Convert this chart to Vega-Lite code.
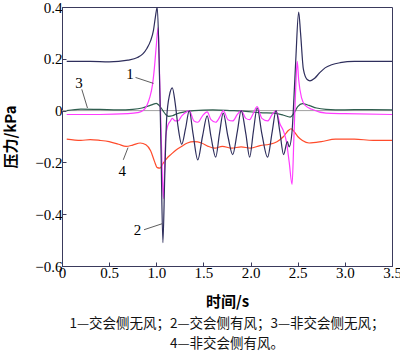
{
  "$schema": "https://vega.github.io/schema/vega-lite/v6.json",
  "autosize": {"type": "none"},
  "width": 330,
  "height": 259,
  "padding": {"left": 62, "top": 7, "right": 8, "bottom": 90},
  "background": "white",
  "config": {
    "view": {"stroke": "#3a3a5c", "strokeWidth": 1},
    "axis": {"grid": false, "domainColor": "#3a3a5c", "tickColor": "#3a3a5c", "labelColor": "#000", "titleColor": "#000", "labelFont": "Liberation Serif, serif"},
    "title": {"font": "Noto Sans CJK SC", "fontSize": 13.5, "fontWeight": "normal", "color": "#111"}
  },
  "title": {"text": ["1—交会侧无风；2—交会侧有风；3—非交会侧无风；", "4—非交会侧有风。"], "orient": "bottom", "anchor": "middle", "offset": 8, "lineHeight": 20},
  "datasets": {
    "curves": [
      {"t": 0.05, "p": -0.11, "s": "4"}, {"t": 0.2, "p": -0.115, "s": "4"}, {"t": 0.3, "p": -0.112, "s": "4"}, {"t": 0.4, "p": -0.115, "s": "4"}, {"t": 0.5, "p": -0.12, "s": "4"}, {"t": 0.6, "p": -0.13, "s": "4"}, {"t": 0.68, "p": -0.138, "s": "4"}, {"t": 0.75, "p": -0.133, "s": "4"}, {"t": 0.83, "p": -0.125, "s": "4"}, {"t": 0.89, "p": -0.132, "s": "4"}, {"t": 0.94, "p": -0.155, "s": "4"}, {"t": 0.98, "p": -0.195, "s": "4"}, {"t": 1.01, "p": -0.22, "s": "4"}, {"t": 1.04, "p": -0.222, "s": "4"}, {"t": 1.07, "p": -0.205, "s": "4"}, {"t": 1.11, "p": -0.185, "s": "4"}, {"t": 1.16, "p": -0.168, "s": "4"}, {"t": 1.21, "p": -0.152, "s": "4"}, {"t": 1.27, "p": -0.138, "s": "4"}, {"t": 1.33, "p": -0.125, "s": "4"}, {"t": 1.4, "p": -0.12, "s": "4"}, {"t": 1.48, "p": -0.125, "s": "4"}, {"t": 1.55, "p": -0.138, "s": "4"}, {"t": 1.62, "p": -0.145, "s": "4"}, {"t": 1.7, "p": -0.138, "s": "4"}, {"t": 1.8, "p": -0.145, "s": "4"}, {"t": 1.9, "p": -0.14, "s": "4"}, {"t": 2.0, "p": -0.145, "s": "4"}, {"t": 2.1, "p": -0.135, "s": "4"}, {"t": 2.2, "p": -0.13, "s": "4"}, {"t": 2.28, "p": -0.12, "s": "4"}, {"t": 2.35, "p": -0.1, "s": "4"}, {"t": 2.4, "p": -0.077, "s": "4"}, {"t": 2.43, "p": -0.07, "s": "4"}, {"t": 2.46, "p": -0.08, "s": "4"}, {"t": 2.5, "p": -0.1, "s": "4"}, {"t": 2.55, "p": -0.115, "s": "4"}, {"t": 2.62, "p": -0.125, "s": "4"}, {"t": 2.75, "p": -0.12, "s": "4"}, {"t": 2.9, "p": -0.11, "s": "4"}, {"t": 3.1, "p": -0.11, "s": "4"}, {"t": 3.3, "p": -0.115, "s": "4"}, {"t": 3.5, "p": -0.115, "s": "4"},

      {"t": 0.05, "p": 0.0, "s": "3"}, {"t": 0.2, "p": 0.006, "s": "3"}, {"t": 0.4, "p": 0.005, "s": "3"}, {"t": 0.6, "p": 0.003, "s": "3"}, {"t": 0.75, "p": 0.005, "s": "3"}, {"t": 0.85, "p": 0.01, "s": "3"}, {"t": 0.92, "p": 0.018, "s": "3"}, {"t": 0.97, "p": 0.025, "s": "3"}, {"t": 1.0, "p": 0.028, "s": "3"}, {"t": 1.03, "p": 0.02, "s": "3"}, {"t": 1.07, "p": 0.0, "s": "3"}, {"t": 1.1, "p": -0.015, "s": "3"}, {"t": 1.13, "p": -0.022, "s": "3"}, {"t": 1.17, "p": -0.02, "s": "3"}, {"t": 1.22, "p": -0.012, "s": "3"}, {"t": 1.3, "p": -0.005, "s": "3"}, {"t": 1.4, "p": 0.0, "s": "3"}, {"t": 1.6, "p": 0.003, "s": "3"}, {"t": 1.8, "p": 0.0, "s": "3"}, {"t": 1.95, "p": -0.003, "s": "3"}, {"t": 2.1, "p": -0.008, "s": "3"}, {"t": 2.25, "p": -0.01, "s": "3"}, {"t": 2.35, "p": -0.018, "s": "3"}, {"t": 2.42, "p": -0.025, "s": "3"}, {"t": 2.46, "p": -0.01, "s": "3"}, {"t": 2.5, "p": 0.015, "s": "3"}, {"t": 2.55, "p": 0.027, "s": "3"}, {"t": 2.62, "p": 0.02, "s": "3"}, {"t": 2.7, "p": 0.01, "s": "3"}, {"t": 2.8, "p": 0.005, "s": "3"}, {"t": 3.0, "p": 0.003, "s": "3"}, {"t": 3.2, "p": 0.004, "s": "3"}, {"t": 3.5, "p": 0.003, "s": "3"},

      {"t": 0.05, "p": -0.015, "s": "1"}, {"t": 0.4, "p": -0.015, "s": "1"}, {"t": 0.7, "p": -0.012, "s": "1"}, {"t": 0.8, "p": -0.008, "s": "1"}, {"t": 0.86, "p": 0.0, "s": "1"}, {"t": 0.9, "p": 0.02, "s": "1"}, {"t": 0.93, "p": 0.05, "s": "1"}, {"t": 0.96, "p": 0.1, "s": "1"}, {"t": 0.98, "p": 0.165, "s": "1"}, {"t": 1.0, "p": 0.25, "s": "1"}, {"t": 1.02, "p": 0.32, "s": "1"}, {"t": 1.03, "p": 0.2, "s": "1"}, {"t": 1.045, "p": 0.0, "s": "1"}, {"t": 1.06, "p": -0.2, "s": "1"}, {"t": 1.075, "p": -0.34, "s": "1"}, {"t": 1.09, "p": -0.2, "s": "1"}, {"t": 1.1, "p": -0.1, "s": "1"}, {"t": 1.12, "p": -0.06, "s": "1"}, {"t": 1.15, "p": -0.04, "s": "1"}, {"t": 1.17, "p": -0.03, "s": "1"}, {"t": 1.2, "p": -0.04, "s": "1"}, {"t": 1.23, "p": -0.04, "s": "1"}, {"t": 1.27, "p": -0.02, "s": "1"}, {"t": 1.32, "p": -0.005, "s": "1"}, {"t": 1.35, "p": 0.0, "s": "1"}, {"t": 1.4, "p": -0.04, "s": "1"}, {"t": 1.44, "p": -0.045, "s": "1"}, {"t": 1.49, "p": -0.02, "s": "1"}, {"t": 1.54, "p": -0.005, "s": "1"}, {"t": 1.58, "p": -0.035, "s": "1"}, {"t": 1.63, "p": -0.045, "s": "1"}, {"t": 1.68, "p": -0.02, "s": "1"}, {"t": 1.71, "p": 0.0, "s": "1"}, {"t": 1.76, "p": -0.035, "s": "1"}, {"t": 1.81, "p": -0.04, "s": "1"}, {"t": 1.86, "p": -0.015, "s": "1"}, {"t": 1.9, "p": 0.0, "s": "1"}, {"t": 1.95, "p": -0.03, "s": "1"}, {"t": 1.99, "p": -0.035, "s": "1"}, {"t": 2.03, "p": -0.01, "s": "1"}, {"t": 2.07, "p": 0.015, "s": "1"}, {"t": 2.12, "p": -0.03, "s": "1"}, {"t": 2.18, "p": -0.04, "s": "1"}, {"t": 2.23, "p": -0.015, "s": "1"}, {"t": 2.27, "p": 0.0, "s": "1"}, {"t": 2.31, "p": -0.05, "s": "1"}, {"t": 2.35, "p": -0.08, "s": "1"}, {"t": 2.38, "p": -0.12, "s": "1"}, {"t": 2.41, "p": -0.2, "s": "1"}, {"t": 2.44, "p": -0.285, "s": "1"}, {"t": 2.46, "p": -0.1, "s": "1"}, {"t": 2.48, "p": 0.1, "s": "1"}, {"t": 2.495, "p": 0.19, "s": "1"}, {"t": 2.51, "p": 0.12, "s": "1"}, {"t": 2.54, "p": 0.05, "s": "1"}, {"t": 2.58, "p": 0.02, "s": "1"}, {"t": 2.65, "p": 0.005, "s": "1"}, {"t": 2.8, "p": -0.01, "s": "1"}, {"t": 3.0, "p": -0.012, "s": "1"}, {"t": 3.5, "p": -0.015, "s": "1"},

      {"t": 0.05, "p": 0.19, "s": "2"}, {"t": 0.3, "p": 0.19, "s": "2"}, {"t": 0.5, "p": 0.188, "s": "2"}, {"t": 0.7, "p": 0.195, "s": "2"}, {"t": 0.8, "p": 0.205, "s": "2"}, {"t": 0.86, "p": 0.22, "s": "2"}, {"t": 0.9, "p": 0.24, "s": "2"}, {"t": 0.94, "p": 0.27, "s": "2"}, {"t": 0.97, "p": 0.31, "s": "2"}, {"t": 0.99, "p": 0.36, "s": "2"}, {"t": 1.01, "p": 0.4, "s": "2"}, {"t": 1.03, "p": 0.2, "s": "2"}, {"t": 1.05, "p": -0.15, "s": "2"}, {"t": 1.07, "p": -0.51, "s": "2"}, {"t": 1.09, "p": -0.25, "s": "2"}, {"t": 1.11, "p": -0.03, "s": "2"}, {"t": 1.14, "p": 0.06, "s": "2"}, {"t": 1.17, "p": 0.088, "s": "2"}, {"t": 1.2, "p": 0.03, "s": "2"}, {"t": 1.23, "p": -0.06, "s": "2"}, {"t": 1.27, "p": -0.13, "s": "2"}, {"t": 1.31, "p": -0.07, "s": "2"}, {"t": 1.35, "p": 0.0, "s": "2"}, {"t": 1.39, "p": -0.09, "s": "2"}, {"t": 1.44, "p": -0.19, "s": "2"}, {"t": 1.49, "p": -0.1, "s": "2"}, {"t": 1.54, "p": -0.02, "s": "2"}, {"t": 1.58, "p": -0.1, "s": "2"}, {"t": 1.63, "p": -0.18, "s": "2"}, {"t": 1.67, "p": -0.09, "s": "2"}, {"t": 1.71, "p": -0.01, "s": "2"}, {"t": 1.76, "p": -0.1, "s": "2"}, {"t": 1.81, "p": -0.17, "s": "2"}, {"t": 1.86, "p": -0.08, "s": "2"}, {"t": 1.9, "p": 0.0, "s": "2"}, {"t": 1.95, "p": -0.09, "s": "2"}, {"t": 1.99, "p": -0.18, "s": "2"}, {"t": 2.03, "p": -0.08, "s": "2"}, {"t": 2.07, "p": 0.01, "s": "2"}, {"t": 2.12, "p": -0.09, "s": "2"}, {"t": 2.18, "p": -0.18, "s": "2"}, {"t": 2.23, "p": -0.08, "s": "2"}, {"t": 2.27, "p": 0.0, "s": "2"}, {"t": 2.31, "p": -0.08, "s": "2"}, {"t": 2.35, "p": -0.17, "s": "2"}, {"t": 2.39, "p": -0.12, "s": "2"}, {"t": 2.41, "p": -0.14, "s": "2"}, {"t": 2.44, "p": -0.08, "s": "2"}, {"t": 2.46, "p": 0.05, "s": "2"}, {"t": 2.48, "p": 0.2, "s": "2"}, {"t": 2.51, "p": 0.38, "s": "2"}, {"t": 2.53, "p": 0.3, "s": "2"}, {"t": 2.56, "p": 0.16, "s": "2"}, {"t": 2.6, "p": 0.12, "s": "2"}, {"t": 2.63, "p": 0.115, "s": "2"}, {"t": 2.68, "p": 0.125, "s": "2"}, {"t": 2.73, "p": 0.145, "s": "2"}, {"t": 2.79, "p": 0.165, "s": "2"}, {"t": 2.86, "p": 0.177, "s": "2"}, {"t": 2.95, "p": 0.185, "s": "2"}, {"t": 3.1, "p": 0.19, "s": "2"}, {"t": 3.3, "p": 0.19, "s": "2"}, {"t": 3.5, "p": 0.19, "s": "2"}
    ],
    "labels": [
      {"n": "1", "lx": 0.72, "ly": 0.14, "x1": 0.78, "y1": 0.128, "x2": 0.97, "y2": 0.105},
      {"n": "2", "lx": 0.8, "ly": -0.46, "x1": 0.87, "y1": -0.46, "x2": 1.06, "y2": -0.437},
      {"n": "3", "lx": 0.18, "ly": 0.105, "x1": 0.21, "y1": 0.082, "x2": 0.27, "y2": 0.01},
      {"n": "4", "lx": 0.64, "ly": -0.235, "x1": 0.65, "y1": -0.19, "x2": 0.7, "y2": -0.143}
    ]
  },
  "layer": [
    {
      "data": {"values": [{"z": 0}]},
      "mark": {"type": "rule", "color": "#a0a0a0", "strokeWidth": 1},
      "encoding": {"y": {"field": "z", "type": "quantitative", "scale": {"domain": [-0.6, 0.4]}}}
    },
    {
      "data": {"name": "curves"},
      "mark": {"type": "line", "strokeWidth": 1.2, "clip": true, "interpolate": "monotone"},
      "encoding": {
        "x": {"field": "t", "type": "quantitative", "scale": {"domain": [0, 3.5], "nice": false},
          "axis": {"title": "时间/s", "values": [0, 0.5, 1, 1.5, 2, 2.5, 3, 3.5], "labelExpr": "datum.value == 0 ? '0' : format(datum.value, '.1f')", "tickSize": -4, "labelPadding": 3, "titlePadding": 14, "labelFlush": false, "labelFont": "Liberation Serif, serif", "labelFontSize": 15, "titleFont": "Noto Sans CJK SC", "titleFontWeight": "bold", "titleFontSize": 15}},
        "y": {"field": "p", "type": "quantitative", "scale": {"domain": [-0.6, 0.4], "nice": false},
          "axis": {"title": "压力/kPa", "values": [-0.6, -0.4, -0.2, 0, 0.2, 0.4], "labelExpr": "datum.value == 0 ? '0' : format(datum.value, '.1f')", "tickSize": -4, "labelPadding": 4, "titlePadding": 16, "labelFlush": false, "labelFont": "Liberation Serif, serif", "labelFontSize": 15, "titleFont": "Noto Sans CJK SC", "titleFontWeight": "bold", "titleFontSize": 15}},
        "color": {"field": "s", "type": "nominal", "legend": null,
          "scale": {"domain": ["1", "2", "3", "4"], "range": ["#ff3cff", "#2e2e5c", "#2f5e4f", "#ff4b2b"]}},
        "order": {"field": "t", "type": "quantitative"}
      }
    },
    {
      "data": {"name": "labels"},
      "mark": {"type": "rule", "color": "#333333", "strokeWidth": 0.8},
      "encoding": {
        "x": {"field": "x1", "type": "quantitative"},
        "y": {"field": "y1", "type": "quantitative"},
        "x2": {"field": "x2"},
        "y2": {"field": "y2"}
      }
    },
    {
      "data": {"name": "labels"},
      "mark": {"type": "text", "font": "Liberation Serif", "fontSize": 15, "color": "#000", "align": "center", "baseline": "middle"},
      "encoding": {
        "x": {"field": "lx", "type": "quantitative"},
        "y": {"field": "ly", "type": "quantitative"},
        "text": {"field": "n"}
      }
    }
  ]
}
